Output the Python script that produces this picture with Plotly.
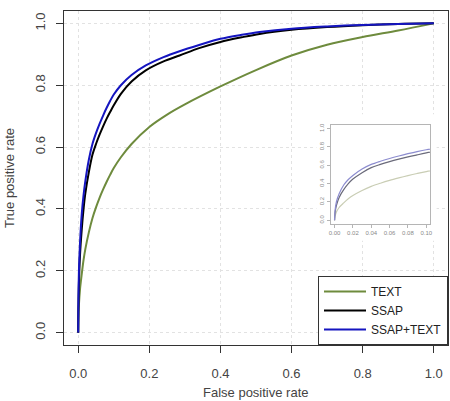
import plotly.graph_objects as go

# ---- data ----
fpr_text = [0, 0.0005, 0.002, 0.005, 0.01, 0.015, 0.02, 0.03, 0.04, 0.05, 0.06, 0.07, 0.08, 0.09, 0.10,
            0.12, 0.15, 0.20, 0.25, 0.30, 0.40, 0.50, 0.60, 0.70, 0.80, 0.90, 1.0]
tpr_text = [0, 0.04, 0.09, 0.14, 0.19, 0.235, 0.27, 0.325, 0.37, 0.405, 0.436, 0.463, 0.488, 0.511, 0.532,
            0.567, 0.61, 0.665, 0.705, 0.738, 0.796, 0.849, 0.896, 0.931, 0.956, 0.977, 1.0]

fpr_ssap = [0, 0.0005, 0.002, 0.005, 0.01, 0.015, 0.02, 0.03, 0.04, 0.05, 0.06, 0.07, 0.08, 0.09, 0.10,
            0.12, 0.15, 0.19, 0.24, 0.285, 0.34, 0.40, 0.46, 0.51, 0.60, 0.70, 0.80, 0.90, 1.0]
tpr_ssap = [0, 0.08, 0.16, 0.25, 0.335, 0.40, 0.45, 0.52, 0.575, 0.61, 0.64, 0.667, 0.692, 0.714, 0.735,
            0.772, 0.812, 0.848, 0.877, 0.896, 0.92, 0.94, 0.955, 0.966, 0.979, 0.988, 0.994, 0.998, 1.0]

fpr_both = [0, 0.0005, 0.002, 0.005, 0.01, 0.015, 0.02, 0.03, 0.04, 0.05, 0.06, 0.07, 0.08, 0.09, 0.10,
            0.12, 0.15, 0.19, 0.24, 0.285, 0.34, 0.40, 0.46, 0.51, 0.60, 0.70, 0.80, 0.90, 1.0]
tpr_both = [0, 0.10, 0.20, 0.29, 0.385, 0.445, 0.49, 0.56, 0.61, 0.645, 0.675, 0.702, 0.727, 0.75, 0.77,
            0.80, 0.833, 0.864, 0.891, 0.91, 0.93, 0.95, 0.963, 0.972, 0.983, 0.99, 0.995, 0.998, 1.0]

series_names = ["TEXT", "SSAP", "SSAP+TEXT"]
main_ticks = [0, 0.2, 0.4, 0.6, 0.8, 1.0]
inset_xticks = [0, 0.02, 0.04, 0.06, 0.08, 0.10]
inset_yticks = [0, 0.2, 0.4, 0.6, 0.8, 1.0]
x_title = "False positive rate"
y_title = "True positive rate"

# ---- styles ----
main_colors = ["#6E8B3D", "#000000", "#1515C0"]
inset_colors = ["#C9CDB4", "#6A6A7A", "#8C8CCF"]
FONT = "Liberation Sans, Arial, sans-serif"
TXT = "#444444"

data = [(fpr_text, tpr_text), (fpr_ssap, tpr_ssap), (fpr_both, tpr_both)]

fig = go.Figure()
for (fx, ty), name, col in zip(data, series_names, main_colors):
    fig.add_trace(go.Scatter(x=fx, y=ty, mode="lines", name=name,
                             line=dict(color=col, width=2, shape="spline", smoothing=0.9),
                             xaxis="x", yaxis="y"))
for (fx, ty), name, col in zip(data, series_names, inset_colors):
    fig.add_trace(go.Scatter(x=fx, y=ty, mode="lines", name=name, showlegend=False,
                             line=dict(color=col, width=1.2, shape="spline", smoothing=0.9),
                             xaxis="x2", yaxis="y2"))

axis_common = dict(showline=True, mirror=True, linecolor="#333333", linewidth=1,
                   ticks="outside", ticklen=7, tickcolor="#333333", zeroline=False,
                   showgrid=True, gridcolor="#e2e2e2", griddash="dot", gridwidth=1,
                   automargin=False,
                   tickfont=dict(family=FONT, size=13, color=TXT))

fig.update_layout(
    width=450, height=401,
    margin=dict(l=64, r=2, t=11, b=56, autoexpand=False),
    paper_bgcolor="white", plot_bgcolor="white",
    font=dict(family=FONT, color=TXT),
    xaxis=dict(range=[-0.04, 1.04], tickvals=main_ticks, tickformat=".1f",
               ticklabelstandoff=9, **axis_common),
    yaxis=dict(range=[-0.04, 1.04], tickvals=main_ticks, tickformat=".1f", tickangle=-90,
               title=dict(text=y_title, font=dict(size=13, color=TXT), standoff=15),
               ticklabelstandoff=6, **axis_common),
    xaxis2=dict(domain=[0.695, 0.953], anchor="y2", range=[-0.004, 0.104],
                tickvals=inset_xticks, tickformat=".2f", showline=True, mirror=True,
                linecolor="#b5b5b5", linewidth=1, ticks="outside", ticklen=3, tickcolor="#b5b5b5",
                showgrid=False, zeroline=False, automargin=False,
                tickfont=dict(family=FONT, size=6, color="#8a8a8a")),
    yaxis2=dict(domain=[0.3623, 0.6587], anchor="x2", range=[-0.04, 1.04],
                tickvals=inset_yticks, tickformat=".1f", tickangle=-90, showline=True, mirror=True,
                linecolor="#b5b5b5", linewidth=1, ticks="outside", ticklen=3, tickcolor="#b5b5b5",
                showgrid=False, zeroline=False, automargin=False,
                tickfont=dict(family=FONT, size=6, color="#8a8a8a")),
    legend=dict(x=1.0, y=0.0, xanchor="right", yanchor="bottom", itemwidth=42,
                bgcolor="white", bordercolor="#333333", borderwidth=1,
                font=dict(family=FONT, size=12, color="#222222")),
    shapes=[dict(type="rect", xref="x", yref="y", x0=0.670, x1=1.008, y0=0.297, y1=0.706,
                 fillcolor="white", line=dict(width=0), layer="between")],
    annotations=[dict(text=x_title, xref="x", yref="paper", x=0.5, y=0,
                      yanchor="middle", yshift=-47, showarrow=False,
                      font=dict(family=FONT, size=13, color=TXT))],
)

fig.write_html("out.html")
